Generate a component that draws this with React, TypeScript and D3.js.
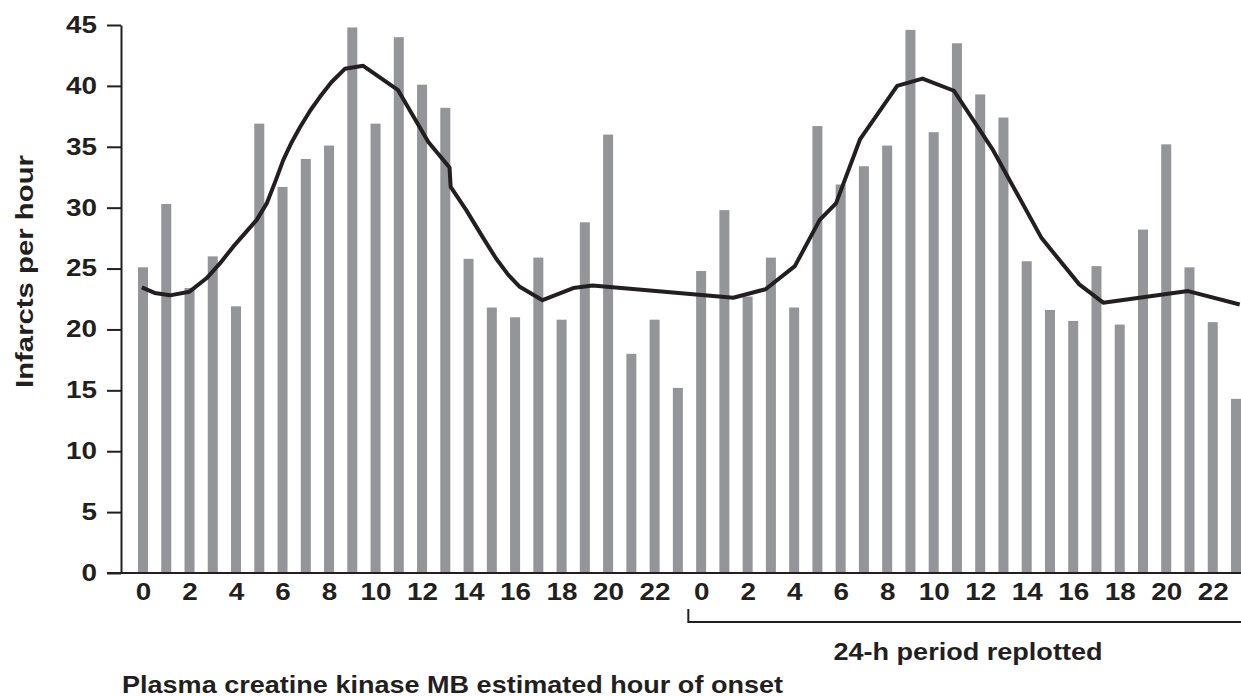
import React, { useEffect, useRef } from "react";
import * as d3 from "d3";

// ---- data ----
const hourLabels: number[] = [
  0, 1, 2, 3, 4, 5, 6, 7, 8, 9, 10, 11, 12, 13, 14, 15, 16, 17, 18, 19, 20, 21, 22, 23,
  0, 1, 2, 3, 4, 5, 6, 7, 8, 9, 10, 11, 12, 13, 14, 15, 16, 17, 18, 19, 20, 21, 22, 23,
];
const infarctsPerHour: number[] = [
  25.1, 30.3, 23.4, 26.0, 21.9, 36.9, 31.7, 34.0, 35.1, 44.8, 36.9, 44.0,
  40.1, 38.2, 25.8, 21.8, 21.0, 25.9, 20.8, 28.8, 36.0, 18.0, 20.8, 15.2,
  24.8, 29.8, 22.7, 25.9, 21.8, 36.7, 31.9, 33.4, 35.1, 44.6, 36.2, 43.5,
  39.3, 37.4, 25.6, 21.6, 20.7, 25.2, 20.4, 28.2, 35.2, 25.1, 20.6, 14.3,
];
// smoothed curve: position in bar-index units and value
const curvePosition: number[] = [
  -0.05, 0.5, 1.16, 2.0, 2.73, 3.3, 3.88, 4.89, 5.32, 5.7, 6.03, 6.4, 6.75, 7.2,
  7.61, 8.1, 8.68, 9.47, 10.97, 12.27, 13.18, 13.23, 13.9, 14.6, 15.19, 15.7,
  16.2, 17.18, 18.5, 19.33, 25.38, 26.77, 28.03, 29.1, 29.8, 30.83, 32.43,
  33.52, 34.87, 36.56, 38.64, 40.26, 41.29, 44.94, 47.16,
];
const curveValue: number[] = [
  23.45, 23.0, 22.8, 23.1, 24.2, 25.4, 26.8, 29.0, 30.35, 32.2, 33.9, 35.4, 36.6, 38.0,
  39.1, 40.3, 41.4, 41.65, 39.65, 35.4, 33.3, 31.7, 29.8, 27.6, 25.8, 24.5,
  23.5, 22.4, 23.4, 23.6, 22.6, 23.3, 25.2, 29.0, 30.35, 35.6, 40.0,
  40.6, 39.6, 34.7, 27.5, 23.7, 22.2, 23.15, 22.05,
];
const yTicks: number[] = [0, 5, 10, 15, 20, 25, 30, 35, 40, 45];
const xTickIndex: number[] = d3.range(0, 48, 2);

const yTitle = "Infarcts per hour";
const xTitle = "Plasma creatine kinase MB estimated hour of onset";
const bracketLabel = "24-h period replotted";

const W = 1241;
const H = 696;
const INK = "#231f20";
const BAR = "#939598";
const FONT = "'Liberation Sans', Arial, Helvetica, sans-serif";
const DIGIT_W = 15.5;

export default function App() {
  const yAxisRef = useRef<SVGGElement>(null);
  const xAxisRef = useRef<SVGGElement>(null);

  const x = d3.scaleLinear().domain([0, 47]).range([143, 1236]);
  const y = d3.scaleLinear().domain([0, 45]).range([573, 25]);
  const barW = 10;

  const lineGen = d3
    .line<number>()
    .x((_, i) => x(curvePosition[i]))
    .y((d) => y(d))
    .curve(d3.curveLinear);

  useEffect(() => {
    const ya = d3
      .axisLeft(y)
      .tickValues(yTicks)
      .tickSize(14)
      .tickSizeOuter(0)
      .tickPadding(10);
    const gy = d3.select(yAxisRef.current!);
    gy.call(ya as any);
    gy.select(".domain").attr("stroke", INK).attr("stroke-width", 2);
    gy.selectAll(".tick line").attr("stroke", INK).attr("stroke-width", 2);
    gy.selectAll<SVGTextElement, number>(".tick text")
      .attr("fill", INK)
      .attr("font-size", 23)
      .attr("font-weight", "bold")
      .attr("font-family", FONT)
      .attr("lengthAdjust", "spacingAndGlyphs")
      .attr("textLength", (d) => String(d).length * DIGIT_W);

    const xa = d3
      .axisBottom(x)
      .tickValues(xTickIndex)
      .tickFormat((i) => String(hourLabels[i as number]))
      .tickSize(0)
      .tickPadding(11);
    const gx = d3.select(xAxisRef.current!);
    gx.call(xa as any);
    gx.select(".domain").remove();
    gx.selectAll<SVGTextElement, number>(".tick text")
      .attr("fill", INK)
      .attr("font-size", 23)
      .attr("font-weight", "bold")
      .attr("font-family", FONT)
      .attr("lengthAdjust", "spacingAndGlyphs")
      .attr("textLength", (d) => String(hourLabels[d]).length * DIGIT_W);
  }, []);

  const y0 = y(0);
  const bracketStart = x(23.45);

  return (
    <svg
      width={W}
      height={H}
      style={{ position: "absolute", left: 0, top: 0, background: "#fff" }}
    >
      <rect x={0} y={0} width={W} height={H} fill="#fff" />
      {infarctsPerHour.map((v, i) => (
        <rect
          key={i}
          x={x(i) - barW / 2}
          y={y(v)}
          width={barW}
          height={y0 - y(v)}
          fill={BAR}
        />
      ))}
      <path
        d={lineGen(curveValue) || ""}
        fill="none"
        stroke={INK}
        strokeWidth={4}
        strokeLinejoin="round"
      />
      <line x1={107} x2={W} y1={y0} y2={y0} stroke={INK} strokeWidth={2} />
      <g ref={yAxisRef} transform="translate(121,0)" />
      <g ref={xAxisRef} transform={`translate(0,${y0})`} />
      <path
        d={`M${bracketStart},609V622H${W}`}
        fill="none"
        stroke={INK}
        strokeWidth={2}
      />
      <text
        x={(bracketStart + x(47.5)) / 2}
        y={660}
        textAnchor="middle"
        fontFamily={FONT}
        fontWeight="bold"
        fontSize={24}
        fill={INK}
        textLength={269}
        lengthAdjust="spacingAndGlyphs"
      >
        {bracketLabel}
      </text>
      <text
        x={122}
        y={692.5}
        fontFamily={FONT}
        fontWeight="bold"
        fontSize={24}
        fill={INK}
        textLength={661}
        lengthAdjust="spacingAndGlyphs"
      >
        {xTitle}
      </text>
      <text
        transform="translate(33,271.5) rotate(-90)"
        textAnchor="middle"
        fontFamily={FONT}
        fontWeight="bold"
        fontSize={24}
        fill={INK}
        textLength={233}
        lengthAdjust="spacingAndGlyphs"
      >
        {yTitle}
      </text>
    </svg>
  );
}
